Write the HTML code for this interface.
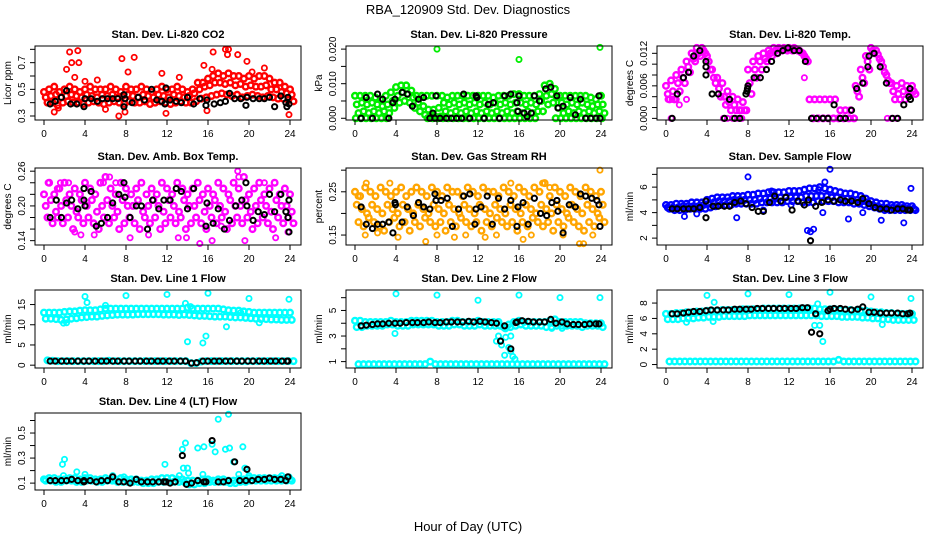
<!DOCTYPE html>
<html><head><meta charset="utf-8">
<style>
html,body{margin:0;padding:0;background:#fff;}
svg{display:block;font-family:"Liberation Sans",sans-serif;}
</style></head>
<body>
<svg id="chart" width="936" height="540" viewBox="0 0 936 540" xmlns="http://www.w3.org/2000/svg">
<rect width="936" height="540" fill="#fff"/>
<text x="468" y="14" font-size="13" text-anchor="middle">RBA_120909  Std. Dev. Diagnostics</text>
<text x="468" y="531" font-size="13" text-anchor="middle">Hour of Day (UTC)</text>
<g id="panels"></g>
</svg>
<script>
// ---------- data ----------
const xTicks = [0,4,8,12,16,20,24];
// P1 CO2
const co2Upper = [0.48,0.5,0.52,0.48,0.5,0.52,0.5,0.48,0.5,0.52,0.5,0.5,0.5,0.52,0.5,0.48,0.52,0.5,0.5,0.52,0.5,0.48,0.5,0.52,0.5,0.5,0.52,0.5,0.48,0.5,0.55,0.55,0.58,0.6,0.62,0.6,0.62,0.6,0.6,0.58,0.6,0.58,0.6,0.6,0.58,0.55,0.55,0.52,0.5];
const co2Mid = [0.44,0.45,0.46,0.44,0.45,0.46,0.45,0.44,0.46,0.45,0.44,0.46,0.45,0.46,0.44,0.45,0.46,0.45,0.44,0.46,0.45,0.44,0.46,0.45,0.44,0.46,0.45,0.44,0.45,0.47,0.5,0.52,0.53,0.55,0.55,0.54,0.55,0.53,0.54,0.52,0.53,0.52,0.52,0.53,0.5,0.5,0.48,0.47,0.46];
const co2Lower = [0.4,0.4,0.38,0.4,0.41,0.4,0.4,0.39,0.4,0.41,0.4,0.39,0.4,0.41,0.4,0.39,0.41,0.4,0.4,0.41,0.39,0.4,0.41,0.4,0.39,0.4,0.41,0.4,0.4,0.41,0.43,0.44,0.45,0.46,0.47,0.46,0.45,0.46,0.44,0.45,0.46,0.45,0.44,0.45,0.44,0.43,0.43,0.42,0.41];
const co2Outliers = [[2.5,0.78],[2.7,0.7],[3.3,0.79],[3.4,0.7],[2.2,0.65],[7.6,0.73],[8.8,0.74],[7.3,0.3],[16.5,0.78],[15.6,0.68],[17.7,0.8],[18.0,0.8],[17.9,0.76],[18.9,0.76],[19.8,0.71],[23.9,0.31],[3.0,0.59],[11.5,0.62],[4.0,0.56],[5.2,0.57],[13.2,0.59],[1.0,0.33],[7.9,0.33],[11.9,0.32],[15.9,0.34],[8.2,0.63],[16.4,0.65],[20.3,0.63],[21.5,0.66],[1.4,0.36],[6.0,0.35]];
const co2Black = [[0.6,0.39],[1.1,0.41],[1.7,0.44],[2.2,0.49],[2.6,0.39],[3.2,0.39],[3.9,0.37],[4.0,0.43],[4.6,0.43],[5.2,0.41],[5.7,0.43],[6.2,0.43],[6.7,0.43],[7.2,0.43],[7.8,0.46],[7.8,0.37],[7.9,0.43],[8.6,0.4],[9.2,0.44],[9.8,0.42],[10.5,0.5],[11.0,0.42],[11.5,0.41],[11.8,0.39],[11.9,0.51],[12.3,0.42],[12.9,0.41],[13.4,0.4],[14.0,0.44],[14.6,0.39],[15.2,0.43],[15.8,0.38],[15.9,0.42],[16.6,0.39],[17.2,0.4],[17.7,0.41],[18.1,0.47],[18.6,0.43],[19.2,0.43],[19.7,0.38],[19.8,0.44],[20.4,0.43],[21.0,0.43],[21.5,0.43],[22.0,0.44],[22.5,0.37],[23.1,0.45],[23.6,0.4],[23.7,0.37],[23.8,0.44],[23.9,0.39]];
// P2 Pressure
const presUpper = [0.0065,0.0065,0.0065,0.0065,0.006,0.0055,0.0065,0.0075,0.009,0.0095,0.0095,0.008,0.0065,0.0065,0.0065,0.0065,0.0065,0.0065,0.006,0.0065,0.0065,0.0065,0.0065,0.0065,0.0065,0.0065,0.0065,0.006,0.0065,0.0065,0.0065,0.007,0.007,0.0065,0.0065,0.0065,0.007,0.0095,0.01,0.0085,0.0065,0.0065,0.0065,0.0065,0.0065,0.0065,0.006,0.0055,0.0065];
const presMid = [0.004,0.0045,0.004,0.0045,0.004,0.0035,0.004,0.005,0.0065,0.0075,0.007,0.006,0.0045,0.0035,0.0025,0.0025,0.003,0.0045,0.004,0.0045,0.004,0.0045,0.004,0.0045,0.004,0.0045,0.004,0.0045,0.004,0.0045,0.004,0.0045,0.0045,0.004,0.0045,0.004,0.005,0.0065,0.007,0.006,0.0045,0.004,0.0045,0.004,0.0045,0.004,0.0035,0.004,0.004];
const presLower = [0.0015,0.002,0.0015,0.002,0.0015,0.002,0.0015,0.003,0.0045,0.005,0.0045,0.003,0.002,0.001,0.0005,0.0005,0.0005,0.002,0.0015,0.002,0.0015,0.002,0.0015,0.002,0.0015,0.002,0.0015,0.002,0.0015,0.002,0.0015,0.002,0.0015,0.002,0.0015,0.002,0.002,0.004,0.0045,0.003,0.0015,0.002,0.0015,0.002,0.0015,0.002,0.0015,0.002,0.0015];
const presZero = [0,0,0,0,0,0,0,null,null,null,null,null,null,null,0,0,0,0,0,0,0,0,0,0,0,0,0,0,0,0,0,0,0,0,0,0,null,null,null,0,0,0,0,0,0,0,0,0,0];
const presOutliers = [[8.0,0.02],[16.0,0.017],[23.9,0.0205]];
const presBlack = [[0.6,0],[1.1,0.006],[1.7,0],[2.2,0.007],[2.7,0.0055],[3.3,0],[3.7,0.0045],[3.9,0.0055],[4.6,0.0075],[5.1,0.007],[5.6,0.0035],[6.2,0.0055],[6.7,0.006],[7.3,0],[7.6,0.0015],[7.9,0.0065],[7.8,0],[8.3,0],[8.9,0],[9.4,0],[9.9,0],[10.4,0],[10.6,0.007],[11.2,0],[11.8,0.0065],[11.9,0.006],[12.6,0],[13.0,0.004],[13.5,0.0045],[14.1,0],[14.6,0.0065],[15.2,0.007],[15.8,0.0045],[15.9,0.002],[16.0,0.0065],[16.5,0.0015],[16.8,0.0005],[17.2,0.0015],[17.5,0.0065],[18.0,0.005],[18.6,0.0085],[19.1,0.009],[19.7,0.0065],[19.8,0.003],[20.3,0.0035],[21.0,0.006],[21.5,0.001],[22.0,0.0055],[22.5,0],[23.0,0],[23.5,0],[23.8,0.0065],[23.9,0]];
// P3 Temp
const tempUpper = [0.006,0.007,0.008,0.009,0.0105,0.012,0.013,0.013,0.0115,0.009,0.0075,0.0065,0.005,0.004,0.0035,0.003,0.009,0.0105,0.0115,0.012,0.0125,0.013,0.013,0.013,0.013,0.013,0.0125,0.0115,0.0035,0.0035,0.0035,0.0035,0.0035,0.0035,0.0015,0.0015,0.0015,0.006,0.009,0.0115,0.013,0.0125,0.0105,0.008,0.0065,0.006,0.0065,0.006,0.006];
const tempMid = [0.0045,0.005,0.0065,0.0075,0.0095,0.011,0.012,0.0125,0.0105,0.0075,0.0055,0.004,0.003,0.0025,0.0015,0.0015,0.0065,0.009,0.0105,0.011,0.012,0.0125,0.0128,0.0128,0.0128,0.0128,0.0122,0.011,null,null,null,null,null,null,null,null,null,0.005,0.0075,0.0105,0.0125,0.0118,0.0095,0.007,0.005,0.0045,0.005,0.005,0.005];
const tempLower = [0.0035,0.0035,0.005,0.0065,0.0085,0.0105,0.0115,0.012,0.009,0.0065,0.004,0.0025,0.0015,0.0015,0.0015,0.0015,0.0045,0.0075,0.009,0.0105,0.0115,0.012,0.0125,0.0125,0.0125,0.0125,0.012,0.0105,0,0,0,0,0,0,0,0,0,0.004,0.0065,0.009,0.012,0.011,0.0085,0.0065,0.0035,0.0035,0.0035,0.0045,0.0045];
const tempOutliers = [[0.2,0.0035],[0.5,0],[5.6,0],[6.0,0],[6.5,0],[7.0,0],[7.4,0],[2.0,0.0035],[13.5,0.0075],[17.0,0],[17.5,0],[18.0,0],[18.4,0],[21.6,0],[22.0,0],[22.5,0],[1.3,0.0025],[1.0,0.0035],[0.6,0.0035]];
const tempBlack = [[0.6,0],[1.1,0.0045],[1.7,0.0075],[2.2,0.0085],[2.7,0.0115],[3.3,0.0125],[3.9,0.0095],[3.9,0.0105],[3.9,0.008],[4.5,0.0045],[5.1,0.0045],[5.7,0],[6.2,0.0035],[6.7,0],[7.2,0],[7.8,0.0045],[7.9,0.005],[7.95,0.0055],[8.0,0.006],[8.6,0.0075],[9.2,0.0075],[9.8,0.009],[10.3,0.0105],[10.9,0.012],[11.4,0.0125],[11.9,0.013],[12.5,0.0125],[13.0,0.0125],[13.6,0.0105],[14.2,0],[14.7,0],[15.3,0],[15.8,0],[16.4,0.0025],[17.0,0],[17.5,0],[18.1,0.0015],[18.6,0.0055],[19.2,0.0065],[19.7,0.0095],[19.8,0.0115],[20.3,0.012],[20.9,0.0095],[21.5,0.0065],[22.1,0],[22.6,0],[23.2,0.0025],[23.7,0.004],[23.8,0.0055],[23.85,0.0035]];
// P4 Ambient box temp
const ambUpper = [0.22,0.24,0.22,0.23,0.24,0.22,0.23,0.22,0.24,0.23,0.22,0.24,0.25,0.23,0.22,0.24,0.23,0.22,0.23,0.24,0.22,0.23,0.22,0.24,0.23,0.22,0.24,0.23,0.22,0.23,0.24,0.22,0.23,0.22,0.24,0.23,0.22,0.24,0.23,0.25,0.22,0.23,0.24,0.22,0.23,0.24,0.22,0.23,0.22];
const ambMid = [0.2,0.21,0.19,0.2,0.21,0.2,0.19,0.21,0.2,0.21,0.19,0.2,0.21,0.2,0.19,0.21,0.2,0.2,0.21,0.19,0.2,0.21,0.2,0.19,0.21,0.2,0.19,0.21,0.2,0.2,0.21,0.19,0.2,0.21,0.2,0.19,0.21,0.2,0.2,0.21,0.19,0.2,0.21,0.2,0.19,0.21,0.2,0.2,0.19];
const ambLower = [0.18,0.17,0.18,0.17,0.18,0.16,0.18,0.17,0.18,0.17,0.16,0.18,0.17,0.18,0.16,0.17,0.18,0.17,0.16,0.18,0.17,0.18,0.16,0.17,0.18,0.17,0.18,0.16,0.17,0.18,0.17,0.16,0.18,0.17,0.18,0.16,0.17,0.18,0.17,0.18,0.16,0.17,0.18,0.17,0.16,0.18,0.17,0.18,0.17];
const ambOutliers = [[0.4,0.24],[1.3,0.23],[3.0,0.155],[4.9,0.15],[6.4,0.25],[7.0,0.24],[8.4,0.145],[10.2,0.15],[13.1,0.145],[13.9,0.145],[15.2,0.135],[16.4,0.14],[18.9,0.26],[19.6,0.14],[22.6,0.145],[23.8,0.155],[17.3,0.165],[5.8,0.24],[1.6,0.24],[2.4,0.24],[9.5,0.24],[11.5,0.24],[21.5,0.24],[3.6,0.15],[19.0,0.25]];
const ambBlack = [[0.6,0.18],[1.2,0.21],[1.7,0.18],[2.2,0.205],[2.7,0.21],[3.3,0.195],[3.9,0.23],[3.9,0.21],[4.0,0.2],[4.6,0.225],[5.1,0.165],[5.6,0.17],[6.2,0.18],[6.7,0.205],[7.3,0.22],[7.8,0.24],[7.9,0.215],[8.4,0.18],[9.0,0.2],[9.5,0.2],[10.1,0.16],[10.6,0.21],[11.2,0.195],[11.7,0.21],[12.3,0.21],[12.9,0.23],[13.4,0.225],[14.0,0.195],[14.6,0.23],[15.8,0.165],[15.9,0.205],[16.5,0.17],[17.0,0.195],[17.6,0.16],[18.1,0.175],[18.7,0.2],[19.3,0.21],[19.7,0.24],[19.8,0.2],[20.4,0.175],[20.9,0.19],[21.5,0.185],[22.0,0.22],[22.5,0.19],[23.1,0.22],[23.6,0.19],[23.8,0.18],[23.9,0.21],[23.9,0.155]];
// P5 Gas stream RH
const rhUpper = [0.25,0.24,0.26,0.25,0.24,0.26,0.25,0.24,0.25,0.26,0.24,0.25,0.26,0.25,0.24,0.26,0.25,0.24,0.26,0.25,0.25,0.24,0.26,0.25,0.24,0.26,0.25,0.25,0.24,0.26,0.25,0.24,0.26,0.25,0.24,0.26,0.25,0.27,0.24,0.26,0.25,0.24,0.26,0.25,0.24,0.26,0.25,0.24,0.25];
const rhMid = [0.22,0.21,0.2,0.22,0.21,0.2,0.22,0.21,0.2,0.22,0.21,0.2,0.22,0.21,0.2,0.22,0.21,0.2,0.22,0.21,0.2,0.22,0.21,0.2,0.22,0.21,0.2,0.22,0.21,0.2,0.22,0.21,0.2,0.22,0.21,0.2,0.22,0.21,0.2,0.22,0.21,0.2,0.22,0.21,0.2,0.22,0.21,0.2,0.22];
const rhLower = [0.18,0.17,0.19,0.18,0.17,0.16,0.18,0.19,0.17,0.18,0.16,0.18,0.17,0.19,0.18,0.17,0.18,0.16,0.18,0.17,0.19,0.18,0.17,0.18,0.16,0.18,0.17,0.19,0.18,0.17,0.18,0.16,0.18,0.17,0.19,0.18,0.17,0.18,0.16,0.18,0.17,0.19,0.18,0.17,0.16,0.18,0.17,0.19,0.18];
const rhOutliers = [[0.3,0.24],[1.1,0.27],[3.4,0.27],[6.9,0.135],[4.2,0.145],[9.7,0.145],[10.8,0.15],[12.7,0.145],[13.8,0.15],[15.2,0.27],[17.2,0.15],[18.3,0.27],[19.0,0.26],[20.3,0.15],[21.9,0.13],[22.3,0.13],[23.9,0.3],[1.0,0.15],[2.2,0.155],[8.0,0.15],[16.4,0.14],[23.2,0.15]];
const rhBlack = [[0.6,0.215],[1.1,0.175],[1.7,0.165],[2.2,0.175],[2.7,0.175],[3.3,0.18],[3.7,0.155],[3.9,0.225],[3.95,0.22],[4.6,0.18],[5.1,0.215],[5.7,0.195],[6.2,0.225],[6.7,0.215],[7.3,0.21],[7.8,0.245],[7.9,0.23],[8.4,0.23],[9.0,0.235],[9.5,0.17],[10.1,0.21],[10.6,0.24],[11.2,0.245],[11.7,0.175],[11.8,0.21],[12.3,0.215],[12.9,0.24],[13.4,0.175],[14.0,0.235],[14.6,0.21],[15.2,0.23],[15.8,0.17],[15.9,0.215],[16.4,0.225],[16.9,0.175],[17.5,0.235],[18.1,0.2],[18.7,0.195],[19.2,0.225],[19.7,0.23],[19.8,0.205],[20.3,0.155],[20.9,0.22],[21.5,0.215],[22.0,0.245],[22.5,0.24],[23.1,0.235],[23.6,0.23],[23.8,0.22],[23.9,0.17]];
// P6 Sample flow
const sfUpper = [4.6,4.6,4.7,4.7,4.7,4.8,4.8,4.8,5.0,5.1,5.2,5.2,5.2,5.3,5.3,5.3,5.4,5.4,5.5,5.5,5.6,5.6,5.6,5.6,5.7,5.7,5.7,5.8,5.9,5.9,6.0,5.9,5.8,5.7,5.6,5.5,5.5,5.4,5.3,5.1,4.9,4.8,4.7,4.7,4.6,4.6,4.6,4.5,4.5];
const sfMid = [4.4,4.4,4.4,4.5,4.5,4.5,4.5,4.6,4.7,4.8,4.9,4.9,4.9,5.0,5.0,5.0,5.0,5.0,5.1,5.1,5.1,5.1,5.2,5.2,5.2,5.2,5.2,5.3,5.3,5.3,5.3,5.3,5.2,5.2,5.1,5.1,5.0,5.0,4.9,4.8,4.6,4.5,4.4,4.4,4.4,4.4,4.4,4.3,4.3];
const sfLower = [4.3,4.2,4.2,4.2,4.3,4.3,4.3,4.3,4.4,4.5,4.6,4.6,4.6,4.7,4.7,4.7,4.7,4.7,4.8,4.8,4.8,4.8,4.8,4.9,4.9,4.9,4.8,4.8,4.8,4.9,4.9,4.9,4.9,4.8,4.8,4.8,4.7,4.7,4.6,4.5,4.4,4.3,4.2,4.2,4.2,4.2,4.2,4.2,4.2];
const sfOutliers = [[1.8,3.7],[3.0,3.9],[8.0,6.8],[9.5,4.2],[6.9,3.6],[10.3,5.7],[12.2,4.6],[13.8,2.6],[14.1,2.5],[14.4,2.7],[15.5,6.4],[16.0,7.4],[15.3,4.0],[17.8,3.5],[21.0,3.4],[23.2,3.2],[23.9,5.9],[14.9,5.8],[19.2,4.0]];
const sfBlack = [[0.6,4.3],[1.1,4.3],[1.7,4.3],[2.2,4.3],[2.7,4.3],[3.3,4.4],[3.9,3.6],[3.9,4.9],[4.6,4.5],[5.1,4.5],[5.7,4.5],[6.2,4.5],[6.7,4.8],[7.3,4.9],[7.8,4.7],[8.4,4.4],[9.0,4.1],[9.5,4.1],[10.1,4.8],[10.6,5.3],[11.2,4.9],[11.7,5.2],[12.3,4.2],[12.9,4.9],[13.5,4.6],[13.9,5.0],[14.1,1.8],[14.6,4.5],[15.2,4.8],[15.8,5.0],[16.4,4.9],[17.0,5.0],[17.5,4.9],[18.1,4.9],[18.7,4.8],[19.2,5.1],[19.8,4.7],[20.4,4.4],[20.9,4.3],[21.5,4.3],[22.0,4.2],[22.6,4.3],[23.1,4.3],[23.6,4.2],[23.8,4.2]];
// P7 Line 1 flow
const l1High = [13,13,13,13,13.2,13.3,13.3,13.5,13.6,13.6,13.6,13.8,14,14,14,14,14,14,14,14,14,14,14,14,14,14,14,14,14.2,14,14,14,14,14,14,13.8,13.6,13.5,13.5,13.3,13.2,13,13,13,13,13,13,13,13];
const l1Low = [11.5,11.5,11.4,11.2,11.3,11.5,11.6,11.8,11.9,12,12,12.2,12.3,12.4,12.5,12.5,12.5,12.5,12.6,12.6,12.6,12.6,12.6,12.5,12.5,12.5,12.4,12.5,12.4,12.3,12.2,12.2,12.1,12,12,12,11.9,11.8,11.8,11.7,11.6,11.5,11.4,11.4,11.3,11.3,11.2,11.2,11.2];
const l1Base = [1.2,1.1,1,1,1,1,1,1,1,1,1,1,1.1,1,1,1,1,1,1,1,1,1,1,1,1,1,1,1,0.5,0.5,0.9,1,1,1,1,1,1,1,1,1,1,1,1,1,1,1,1,1,1];
const l1Outliers = [[4.0,17],[4.2,15.5],[8.0,17.2],[12.0,17.5],[16.0,17.8],[20.0,16.5],[23.9,16.3],[14.0,5.8],[15.5,5.5],[15.8,7.2],[17.8,9.5],[1.9,10.4],[2.2,10.5],[13.8,15.3],[14.3,14.5],[6.0,14.8],[21.0,10.5],[19.2,13]];
const l1Black = [[0.6,1],[1.1,1],[1.7,1],[2.2,1],[2.7,1],[3.3,1],[3.9,1],[4.4,1],[5.0,1],[5.6,1],[6.1,1],[6.7,1],[7.2,1],[7.8,1],[8.3,1],[8.9,1],[9.4,1],[10.0,1],[10.5,1],[11.1,1],[11.6,1],[12.2,1],[12.7,1],[13.3,1],[13.8,1],[14.4,0.5],[14.9,0.6],[15.5,1],[16.0,1],[16.6,1],[17.1,1],[17.7,1],[18.2,1],[18.8,1],[19.3,1],[19.9,1],[20.4,1],[21.0,1],[21.5,1],[22.1,1],[22.6,1],[23.2,1],[23.7,1],[23.8,1]];
// P8 Line 2 flow
const l2High = [4.2,4.2,4.1,4.1,4.1,4.1,4.1,4.2,4.1,4.1,4.1,4.2,4.2,4.2,4.2,4.2,4.1,4.1,4.1,4.2,4.2,4.1,4.1,4.1,4.2,4.1,4.1,4.1,4.1,3.7,3.9,4.1,4.2,4.1,4.1,4.1,4.1,4.1,4.2,4.3,4.1,4.1,4.1,4.1,4.1,4.0,4.0,4.0,4.0];
const l2Low = [3.7,3.7,3.8,3.8,3.8,3.8,3.9,3.9,3.8,3.8,3.8,3.9,3.9,3.9,3.9,3.9,3.8,3.8,3.8,3.9,3.9,3.8,3.8,3.8,3.9,3.8,3.8,3.8,3.8,3.6,3.7,3.8,3.9,3.8,3.8,3.8,3.8,3.7,3.7,3.8,3.8,3.8,3.8,3.8,3.7,3.8,3.8,3.8,3.7];
const l2Base = [0.8,0.8,0.8,0.8,0.8,0.8,0.8,0.8,0.8,0.8,0.8,0.8,0.8,0.8,1.0,0.8,0.8,0.8,0.8,0.8,0.8,0.8,0.8,0.8,0.8,0.8,0.8,0.8,0.8,0.8,0.8,0.8,0.8,0.8,0.8,0.8,0.8,0.8,0.8,0.8,0.8,0.8,0.8,0.8,0.8,0.8,0.8,0.8,0.8];
const l2Outliers = [[4.0,6.3],[8.0,6.2],[12.0,5.8],[16.0,6.2],[20.0,6.0],[23.9,6.0],[3.9,3.2],[14.0,3.0],[13.8,2.6],[14.3,2.3],[14.6,1.5],[14.7,2.9],[15.0,2.1],[15.2,3.0],[15.4,1.4],[15.6,1.2],[15.2,1.8],[19.2,3.6],[20.2,3.6]];
const l2Black = [[0.6,3.8],[1.1,3.85],[1.7,3.9],[2.2,3.95],[2.7,3.95],[3.3,4.0],[3.9,4.0],[4.4,4.0],[5.0,4.05],[5.6,4.05],[6.1,4.05],[6.7,4.05],[7.2,4.1],[7.8,4.05],[8.3,4.05],[8.9,4.1],[9.4,4.1],[10.0,4.1],[10.5,4.1],[11.1,4.15],[11.6,4.1],[12.2,4.15],[12.7,4.1],[13.3,4.05],[13.8,4.0],[14.2,2.6],[14.6,3.8],[15.2,2.0],[15.7,4.05],[15.8,4.1],[16.3,4.2],[16.9,4.15],[17.4,4.1],[18.0,4.1],[18.5,4.1],[19.1,4.3],[19.6,4.0],[20.2,4.1],[20.7,3.95],[21.3,3.9],[21.8,3.9],[22.4,3.9],[22.9,3.95],[23.5,3.95],[23.8,3.95]];
// P9 Line 3 flow
const l3High = [6.6,6.6,6.7,6.7,6.8,6.8,6.9,6.9,7.0,7.0,7.0,7.1,7.1,7.1,7.1,7.2,7.2,7.2,7.2,7.3,7.3,7.3,7.3,7.3,7.3,7.3,7.3,7.3,7.3,7.3,7.2,7.2,7.2,7.2,7.1,7.1,7.1,7.0,7.0,7.0,6.9,6.8,6.8,6.7,6.7,6.6,6.6,6.6,6.6];
const l3Low = [5.9,5.9,5.9,6.0,6.0,6.0,6.1,6.1,6.2,6.2,6.2,6.3,6.3,6.3,6.3,6.3,6.4,6.4,6.4,6.4,6.4,6.4,6.4,6.4,6.4,6.4,6.4,6.4,6.4,6.4,6.3,6.3,6.3,6.3,6.2,6.2,6.2,6.2,6.1,6.1,6.0,6.0,5.9,5.9,5.8,5.8,5.8,5.8,5.8];
const l3Base = [0.4,0.4,0.4,0.4,0.4,0.4,0.4,0.4,0.4,0.4,0.4,0.4,0.4,0.4,0.4,0.4,0.4,0.4,0.4,0.4,0.4,0.4,0.4,0.4,0.4,0.4,0.4,0.4,0.4,0.4,0.4,0.4,0.4,0.6,0.4,0.4,0.4,0.4,0.4,0.4,0.4,0.4,0.4,0.4,0.4,0.4,0.4,0.4,0.4];
const l3Outliers = [[4.0,9.0],[4.7,8.1],[8.0,9.2],[12.0,9.1],[16.0,9.4],[20.0,8.8],[23.9,8.6],[4.6,5.6],[14.5,5.1],[15.0,5.1],[15.3,3.0],[14.8,7.9],[21.1,5.2],[2.0,5.5]];
const l3Black = [[0.6,6.6],[1.1,6.6],[1.7,6.7],[2.2,6.8],[2.7,6.9],[3.3,6.9],[3.9,7.0],[4.4,7.1],[5.0,7.1],[5.6,7.1],[6.1,7.1],[6.7,7.2],[7.2,7.2],[7.8,7.2],[8.3,7.2],[8.9,7.3],[9.4,7.3],[10.0,7.3],[10.5,7.3],[11.1,7.3],[11.6,7.3],[12.2,7.3],[12.7,7.3],[13.3,7.4],[13.8,7.4],[14.2,4.2],[14.6,6.6],[15.0,4.0],[15.8,7.0],[16.0,7.2],[16.4,7.3],[17.0,7.3],[17.5,7.2],[18.1,7.1],[18.7,7.2],[19.2,7.5],[19.8,6.8],[20.3,6.8],[20.9,6.7],[21.5,6.7],[22.0,6.7],[22.6,6.7],[23.1,6.6],[23.6,6.6],[23.8,6.7]];
// P10 Line 4 flow
const l4High = [0.13,0.14,0.14,0.13,0.13,0.14,0.14,0.13,0.14,0.14,0.13,0.13,0.14,0.13,0.13,0.14,0.13,0.13,0.13,0.12,0.12,0.13,0.13,0.14,0.14,0.14,0.13,0.13,0.12,0.12,0.12,0.13,0.13,0.12,0.13,0.13,0.12,0.12,0.13,0.13,0.14,0.14,0.14,0.14,0.14,0.14,0.14,0.14,0.13];
const l4Low = [0.12,0.12,0.11,0.11,0.12,0.12,0.11,0.11,0.12,0.12,0.11,0.11,0.12,0.12,0.11,0.11,0.11,0.11,0.11,0.1,0.1,0.1,0.11,0.11,0.11,0.11,0.11,0.11,0.09,0.09,0.1,0.1,0.11,0.11,0.11,0.11,0.1,0.1,0.11,0.11,0.12,0.12,0.12,0.12,0.12,0.12,0.12,0.12,0.12];
const l4Outliers = [[1.8,0.25],[2.0,0.29],[1.9,0.16],[3.2,0.19],[4.0,0.17],[6.7,0.16],[7.8,0.15],[11.8,0.25],[13.2,0.16],[13.5,0.37],[13.8,0.42],[13.6,0.22],[14.0,0.22],[14.1,0.18],[15.0,0.38],[15.6,0.39],[16.4,0.41],[16.7,0.35],[17.0,0.61],[17.7,0.37],[18.0,0.65],[18.1,0.38],[18.5,0.27],[19.4,0.39],[19.6,0.22],[19.0,0.17],[15.5,0.17],[23.2,0.16],[23.9,0.15],[20.0,0.16]];
const l4Black = [[0.6,0.12],[1.1,0.12],[1.7,0.12],[2.2,0.12],[2.7,0.13],[3.3,0.12],[3.9,0.11],[3.9,0.12],[4.5,0.12],[5.1,0.11],[5.6,0.12],[6.2,0.12],[6.7,0.15],[7.3,0.11],[7.8,0.11],[8.4,0.1],[9.0,0.13],[9.5,0.11],[10.1,0.11],[10.6,0.11],[11.2,0.11],[11.7,0.11],[11.9,0.11],[12.3,0.1],[12.8,0.11],[13.5,0.32],[13.9,0.09],[14.4,0.1],[15.0,0.12],[15.6,0.11],[15.8,0.11],[16.4,0.44],[17.0,0.11],[17.5,0.11],[18.0,0.12],[18.6,0.27],[19.1,0.12],[19.7,0.12],[19.8,0.21],[20.3,0.12],[20.9,0.13],[21.5,0.13],[22.0,0.14],[22.5,0.13],[23.1,0.13],[23.6,0.12],[23.8,0.15]];

// ---------- layout ----------
const NS = "http://www.w3.org/2000/svg";
const colLeft = [35, 346, 657];
const boxW = 266;
const rowTop = [46, 168, 290, 413];
const rowBot = [120, 245, 368, 490];
const xPad = 9, xSpan = 246;

const panels = [
  {name:"co2", title:"Stan. Dev. Li-820 CO2", ylab:"Licor ppm", col:0,row:0, ymin:0.27, ymax:0.825, ticks:[0.3,0.4,0.5,0.6,0.7,0.8], labels:["0.3","","0.5","","0.7",""], color:"#ff0000", clouds:[co2Upper,co2Mid,co2Lower], outliers:co2Outliers, black:co2Black},
  {name:"pressure", title:"Stan. Dev. Li-820 Pressure", ylab:"kPa", col:1,row:0, ymin:-0.0005, ymax:0.0209, ticks:[0,0.005,0.01,0.015,0.02], labels:["0.000","","0.010","","0.020"], color:"#00ee00", clouds:[presUpper,presMid,presLower,presZero], outliers:presOutliers, black:presBlack},
  {name:"temp", title:"Stan. Dev. Li-820 Temp.", ylab:"degrees C", col:2,row:0, ymin:-0.0003, ymax:0.01335, ticks:[0,0.002,0.004,0.006,0.008,0.01,0.012], labels:["0.000","","","0.006","","","0.012"], color:"#ff00ff", clouds:[tempUpper,tempMid,tempLower], outliers:tempOutliers, black:tempBlack},
  {name:"amb-box-temp", title:"Stan. Dev. Amb. Box Temp.", ylab:"degrees C", col:0,row:1, ymin:0.1325, ymax:0.2655, ticks:[0.14,0.16,0.18,0.2,0.22,0.24,0.26], labels:["0.14","","","0.20","","","0.26"], color:"#ff00ff", clouds:[ambUpper,ambMid,ambLower], outliers:ambOutliers, black:ambBlack},
  {name:"gas-stream-rh", title:"Stan. Dev. Gas Stream RH", ylab:"percent", col:1,row:1, ymin:0.127, ymax:0.305, ticks:[0.15,0.2,0.25,0.3], labels:["0.15","","0.25",""], color:"#ffa500", clouds:[rhUpper,rhMid,rhLower], outliers:rhOutliers, black:rhBlack},
  {name:"sample-flow", title:"Stan. Dev. Sample Flow", ylab:"ml/min", col:2,row:1, ymin:1.46, ymax:7.5, ticks:[2,3,4,5,6,7], labels:["2","","4","","6",""], color:"#0000ff", clouds:[sfUpper,sfMid,sfLower], outliers:sfOutliers, black:sfBlack},
  {name:"line1-flow", title:"Stan. Dev. Line 1 Flow", ylab:"ml/min", col:0,row:2, ymin:-0.7, ymax:18.6, ticks:[0,5,10,15], labels:["0","5","10","15"], color:"#00ffff", clouds:[l1High,l1Low,l1Base], outliers:l1Outliers, black:l1Black},
  {name:"line2-flow", title:"Stan. Dev. Line 2 Flow", ylab:"ml/min", col:1,row:2, ymin:0.5, ymax:6.6, ticks:[1,2,3,4,5,6], labels:["1","","3","","5",""], color:"#00ffff", clouds:[l2High,l2Low,l2Base], outliers:l2Outliers, black:l2Black},
  {name:"line3-flow", title:"Stan. Dev. Line 3 Flow", ylab:"ml/min", col:2,row:2, ymin:-0.45, ymax:9.7, ticks:[0,2,4,6,8], labels:["0","2","4","6","8"], color:"#00ffff", clouds:[l3High,l3Low,l3Base], outliers:l3Outliers, black:l3Black},
  {name:"line4-flow", title:"Stan. Dev. Line 4 (LT) Flow", ylab:"ml/min", col:0,row:3, ymin:0.045, ymax:0.66, ticks:[0.1,0.2,0.3,0.4,0.5,0.6], labels:["0.1","","0.3","","0.5",""], color:"#00ffff", clouds:[l4High,l4Low], outliers:l4Outliers, black:l4Black}
];

function mk(tag, attrs, parent){
  const e = document.createElementNS(NS, tag);
  for (const k in attrs) e.setAttribute(k, attrs[k]);
  parent.appendChild(e);
  return e;
}

const root = document.getElementById("panels");
panels.forEach(p => {
  const L = colLeft[p.col], R = L + boxW, T = rowTop[p.row], B = rowBot[p.row];
  const xs = h => L + xPad + h / 24 * xSpan;
  const ys = v => B - (v - p.ymin) / (p.ymax - p.ymin) * (B - T);
  const g = mk("g", {}, root);
  
  

  const t = mk("text", {x:(L+R)/2, y:T-8, "font-size":"11", "font-weight":"bold", "text-anchor":"middle"}, g);
  t.textContent = p.title;
  
  

  const pts = mk("g", {fill:"none"}, g);
  
  
  const offs = [0, 0.17, 0.34, 0.08];
  p.clouds.forEach((arr, ci) => {
    arr.forEach((v, i) => {
      if (v === null) return;
      const c = mk("circle", {cx:xs(i*0.5 + offs[ci % 4]), cy:ys(v), r:2.8, stroke:p.color, "stroke-width":"2.4"}, pts);
      
      
    });
  });
  p.outliers.forEach(d => {
    const c = mk("circle", {cx:xs(d[0]), cy:ys(d[1]), r:2.6, stroke:p.color, "stroke-width":"1.8"}, pts);
    
    
  });
  p.black.forEach(d => {
    const c = mk("circle", {cx:xs(d[0]), cy:ys(d[1]), r:2.6, stroke:"#000", "stroke-width":"2"}, pts);
    
    
  });

  const box = mk("rect", {x:L, y:T, width:boxW, height:B-T, fill:"none", stroke:"#000", "stroke-width":"1"}, g);
  
  

  const xa = mk("g", {}, g);
  
  
  xTicks.forEach(h => {
    mk("line", {x1:xs(h), x2:xs(h), y1:B, y2:B+5, stroke:"#000"}, xa);
    const tl = mk("text", {x:xs(h), y:B+17, "font-size":"10", "text-anchor":"middle"}, xa);
    tl.textContent = h;
    
    
  });

  const ya = mk("g", {}, g);
  
  
  p.ticks.forEach((v, i) => {
    mk("line", {x1:L-5, x2:L, y1:ys(v), y2:ys(v), stroke:"#000"}, ya);
    const s = p.labels[i];
    if (!s) return;
    const tx = L - 10, ty = ys(v);
    const tl = mk("text", {x:tx, y:ty, "font-size":"10", "text-anchor":"middle", transform:`rotate(-90 ${tx} ${ty})`}, ya);
    tl.textContent = s;
    
    
  });
  const lx = L - 24, ly = (T + B) / 2;
  const yl = mk("text", {x:lx, y:ly, "font-size":"10", "text-anchor":"middle", transform:`rotate(-90 ${lx} ${ly})`}, g);
  yl.textContent = p.ylab;
  
  
});
</script>
</body></html>
